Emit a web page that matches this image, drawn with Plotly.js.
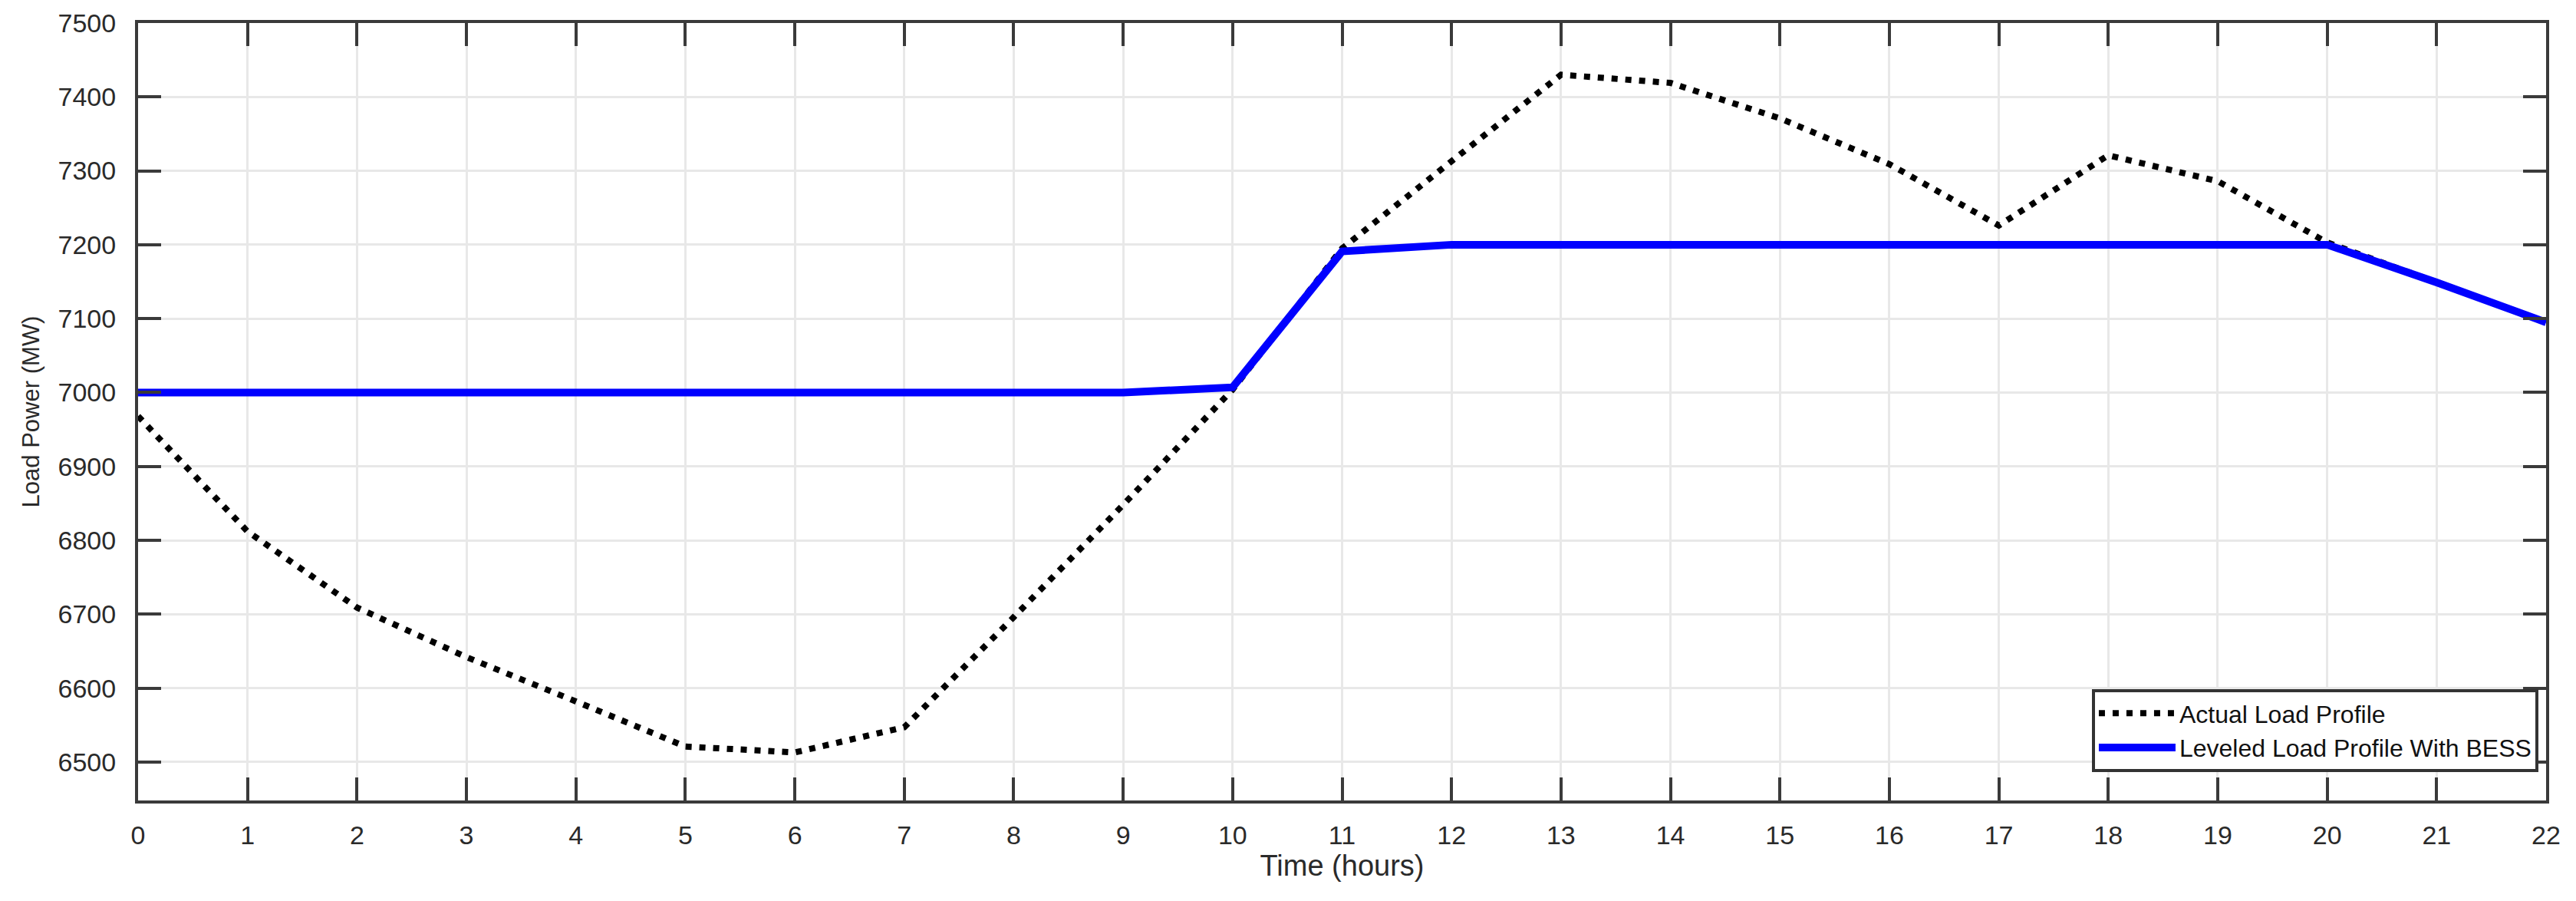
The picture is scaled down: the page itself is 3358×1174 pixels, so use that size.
<!DOCTYPE html>
<html>
<head>
<meta charset="utf-8">
<script src="https://cdn.plot.ly/plotly-3.0.1.min.js"></script>
<style>html,body{margin:0;padding:0;background:#fff;}#chart{width:3358px;height:1174px;}</style>
</head>
<body>
<div id="chart"></div>
<script>
const hours = [0,1,2,3,4,5,6,7,8,9,10,11,12,13,14,15,16,17,18,19,20,21,22];
const actualLoad = [6968,6812,6709,6642,6582,6521,6513,6547,6696,6848,7004,7195,7313,7430,7419,7371,7309,7226,7321,7286,7203,7149,7095];
const leveledLoad = [7000,7000,7000,7000,7000,7000,7000,7000,7000,7000,7007,7191,7200,7200,7200,7200,7200,7200,7200,7200,7200,7149,7095];
const seriesNames = ["Actual Load Profile", "Leveled Load Profile With BESS"];
const xTicks = hours;
const yTicks = [6500,6600,6700,6800,6900,7000,7100,7200,7300,7400,7500];

const axisColor = '#3a3a3a';
const fontFam = '"Liberation Sans", Arial, sans-serif';

const traces = [
  {x: hours, y: actualLoad, name: seriesNames[0], type: 'scatter', mode: 'lines',
   line: {color: '#000000', width: 8, dash: '8px,10px'}},
  {x: hours, y: leveledLoad, name: seriesNames[1], type: 'scatter', mode: 'lines',
   line: {color: '#0000ff', width: 10}}
];

const layout = {
  width: 3358, height: 1174,
  margin: {l: 180, r: 39, t: 30, b: 131},
  paper_bgcolor: '#ffffff', plot_bgcolor: '#ffffff',
  font: {family: fontFam, color: '#262626', size: 34},
  showlegend: true,
  legend: {
    x: 0.9968, y: 0.0365, xanchor: 'right', yanchor: 'bottom',
    bgcolor: '#ffffff', bordercolor: '#333333', borderwidth: 4,
    font: {family: fontFam, size: 32, color: '#111111'},
    itemwidth: 100, tracegroupgap: 0
  },
  xaxis: {
    range: [0, 22], tickvals: xTicks, ticktext: xTicks.map(String),
    showgrid: true, gridcolor: '#e8e8e8', gridwidth: 3,
    zeroline: false, showline: true, linecolor: axisColor, linewidth: 4,
    mirror: 'ticks', ticks: 'inside', ticklen: 30, tickwidth: 4, tickcolor: axisColor,
    tickfont: {family: fontFam, size: 34, color: '#2a2a2a'},
    ticklabelstandoff: 12,
    title: {text: 'Time (hours)', font: {family: fontFam, size: 38, color: '#2a2a2a'}, standoff: 8}
  },
  yaxis: {
    range: [6448, 7500], tickvals: yTicks, ticktext: yTicks.map(String),
    showgrid: true, gridcolor: '#e8e8e8', gridwidth: 3,
    zeroline: false, showline: true, linecolor: axisColor, linewidth: 4,
    mirror: 'ticks', ticks: 'inside', ticklen: 30, tickwidth: 4, tickcolor: axisColor,
    tickfont: {family: fontFam, size: 34, color: '#2a2a2a'},
    ticklabelstandoff: 18,
    title: {text: 'Load Power (MW)', font: {family: fontFam, size: 31, color: '#2a2a2a'}, standoff: 16}
  }
};

Plotly.newPlot('chart', traces, layout, {displayModeBar: false, staticPlot: true});
</script>
</body>
</html>
